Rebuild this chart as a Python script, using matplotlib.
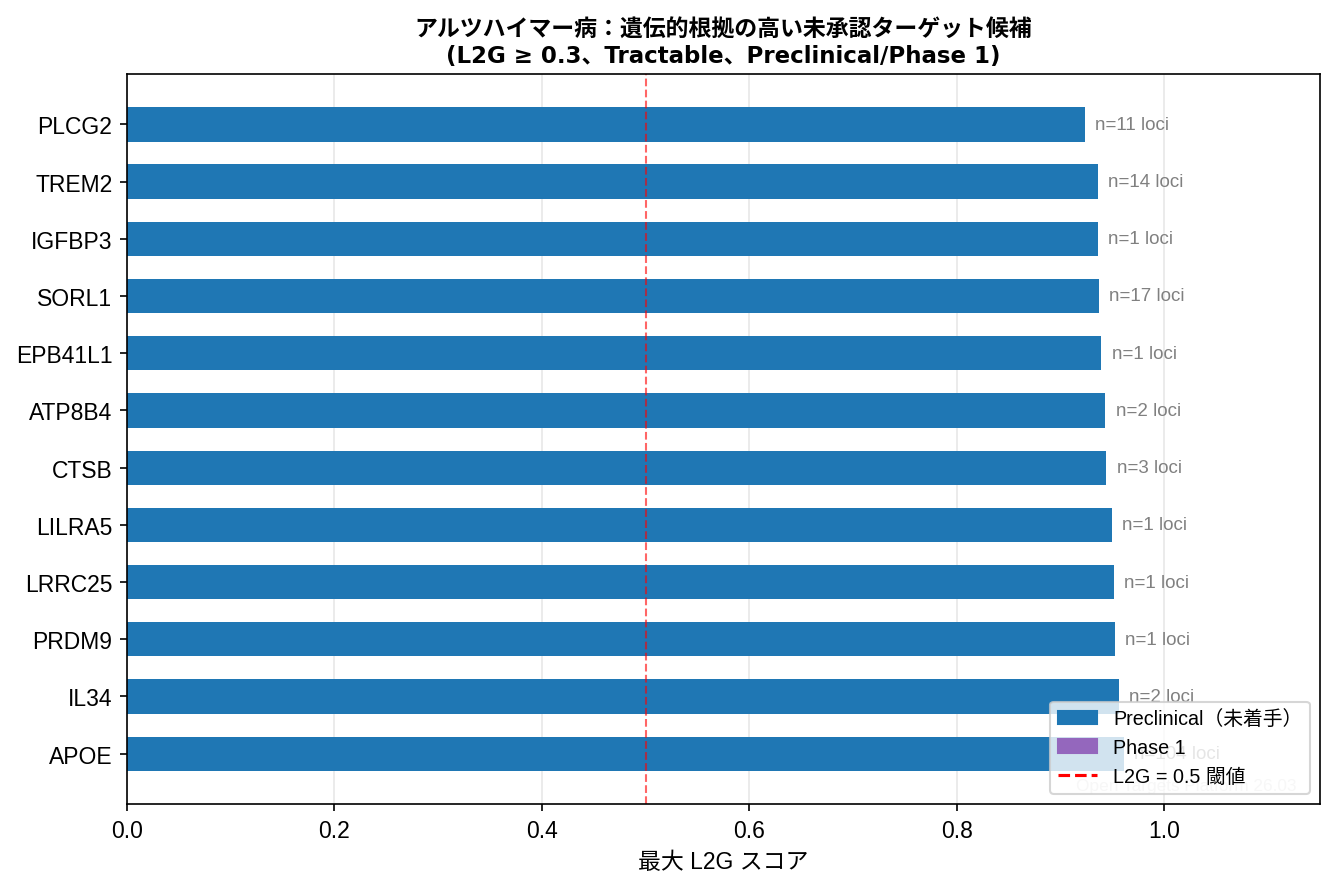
import numpy as np
import matplotlib
matplotlib.use('Agg')
import matplotlib.pyplot as plt
from matplotlib.patches import Patch
from matplotlib.lines import Line2D

plt.rcParams['font.family'] = ['Liberation Sans', 'Noto Sans CJK JP', 'DejaVu Sans']

genes = ['APOE', 'IL34', 'PRDM9', 'LRRC25', 'LILRA5', 'CTSB',
         'ATP8B4', 'EPB41L1', 'SORL1', 'IGFBP3', 'TREM2', 'PLCG2']
l2g = [0.961, 0.956, 0.952, 0.951, 0.949, 0.944,
       0.943, 0.939, 0.937, 0.936, 0.936, 0.923]
n_loci = [104, 2, 1, 1, 1, 3, 2, 1, 17, 1, 14, 11]
phase = ['Preclinical'] * 12

colors = {'Preclinical': '#1f77b4', 'Phase 1': '#9467bd'}

fig, ax = plt.subplots(figsize=(8.9, 5.913), dpi=150)
fig.subplots_adjust(left=0.0951, right=0.9888, top=0.9154, bottom=0.0924)
y = np.arange(len(genes))
ax.barh(y, l2g, height=0.6, color=[colors[p] for p in phase])
ax.set_yticks(y)
ax.set_yticklabels(genes, fontsize=11)

# loci counts next to each bar
for i in range(len(genes)):
    ax.text(l2g[i] + 0.01, y[i], f'n={n_loci[i]} loci', va='center',
            fontsize=9, color='gray')

ax.axvline(0.5, color='red', linestyle='--', linewidth=1, alpha=0.6)
ax.set_xlim(0, 1.15)
ax.grid(axis='x', alpha=0.3)
ax.set_axisbelow(True)
ax.tick_params(axis='x', labelsize=11)
ax.set_xlabel('最大 L2G スコア', fontsize=11)
ax.set_title('アルツハイマー病：遺伝的根拠の高い未承認ターゲット候補\n'
             '(L2G ≥ 0.3、Tractable、Preclinical/Phase 1)',
             fontsize=11, fontweight='bold', family=['DejaVu Sans', 'Noto Sans CJK JP'])

ax.text(0.98, 0.015, 'Open Targets Platform 26.03', transform=ax.transAxes,
        ha='right', va='bottom', fontsize=8.3, color='gray', alpha=0.3)

handles = [Patch(color=colors['Preclinical'], label='Preclinical（未着手）'),
           Patch(color=colors['Phase 1'], label='Phase 1'),
           Line2D([0], [0], color='red', linestyle='--', label='L2G = 0.5 閾値')]
ax.legend(handles=handles, loc='lower right', fontsize=9.5)

plt.savefig('out.png', dpi=150)
